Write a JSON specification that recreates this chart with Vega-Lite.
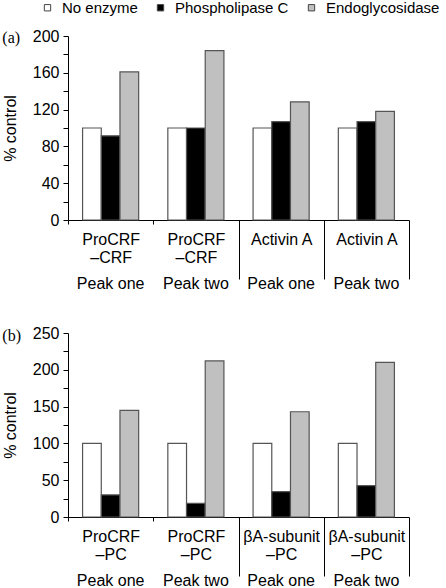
{
  "$schema": "https://vega.github.io/schema/vega-lite/v6.json",
  "padding": {"left": 2, "top": 0, "right": 34, "bottom": 0},
  "background": "white",
  "datasets": {
    "a": [
      {"group": "ProCRF|–CRF|Peak one", "enzyme": "No enzyme", "value": 100},
      {"group": "ProCRF|–CRF|Peak one", "enzyme": "Phospholipase C", "value": 91.5},
      {"group": "ProCRF|–CRF|Peak one", "enzyme": "Endoglycosidase", "value": 161},
      {"group": "ProCRF|–CRF|Peak two", "enzyme": "No enzyme", "value": 100},
      {"group": "ProCRF|–CRF|Peak two", "enzyme": "Phospholipase C", "value": 100},
      {"group": "ProCRF|–CRF|Peak two", "enzyme": "Endoglycosidase", "value": 184},
      {"group": "Activin A|Peak one", "enzyme": "No enzyme", "value": 100},
      {"group": "Activin A|Peak one", "enzyme": "Phospholipase C", "value": 107},
      {"group": "Activin A|Peak one", "enzyme": "Endoglycosidase", "value": 128.5},
      {"group": "Activin A|Peak two", "enzyme": "No enzyme", "value": 100},
      {"group": "Activin A|Peak two", "enzyme": "Phospholipase C", "value": 107},
      {"group": "Activin A|Peak two", "enzyme": "Endoglycosidase", "value": 118}
    ],
    "b": [
      {"group": "ProCRF|–PC|Peak one", "enzyme": "No enzyme", "value": 100},
      {"group": "ProCRF|–PC|Peak one", "enzyme": "Phospholipase C", "value": 30},
      {"group": "ProCRF|–PC|Peak one", "enzyme": "Endoglycosidase", "value": 145},
      {"group": "ProCRF|–PC|Peak two", "enzyme": "No enzyme", "value": 100},
      {"group": "ProCRF|–PC|Peak two", "enzyme": "Phospholipase C", "value": 18.5},
      {"group": "ProCRF|–PC|Peak two", "enzyme": "Endoglycosidase", "value": 212},
      {"group": "βA-subunit|–PC|Peak one", "enzyme": "No enzyme", "value": 100},
      {"group": "βA-subunit|–PC|Peak one", "enzyme": "Phospholipase C", "value": 34.5},
      {"group": "βA-subunit|–PC|Peak one", "enzyme": "Endoglycosidase", "value": 143},
      {"group": "βA-subunit|–PC|Peak two", "enzyme": "No enzyme", "value": 100},
      {"group": "βA-subunit|–PC|Peak two", "enzyme": "Phospholipase C", "value": 42.5},
      {"group": "βA-subunit|–PC|Peak two", "enzyme": "Endoglycosidase", "value": 210}
    ]
  },
  "vconcat": [
    {
      "width": 341,
      "height": 184,
      "data": {"name": "a"},
      "title": {"text": "(a)", "font": "Liberation Serif", "fontSize": 16, "fontWeight": "normal", "color": "black", "anchor": "start", "frame": "bounds", "baseline": "middle", "offset": 0, "dy": 54},
      "layer": [
        {
          "mark": {"type": "bar", "stroke": "#555555", "strokeWidth": 1.2},
          "encoding": {
            "x": {"field": "group", "type": "nominal", "sort": null,
              "scale": {"paddingInner": 0, "paddingOuter": 0},
              "axis": {"title": null, "labelExpr": "slice(split(datum.label, '|'), 0, -1)", "labelAngle": 0, "labelLineHeight": 18, "labelPadding": {"condition": {"test": "datum.index > 0 && datum.label != ''", "value": -48}, "value": 7}, "labelBaseline": "top", "labelOverlap": false, "tickBand": "extent", "tickSize": {"condition": {"test": "datum.index > 0 && datum.label != ''", "value": 59}, "value": 4}}},
            "xOffset": {"field": "enzyme", "type": "nominal", "sort": ["No enzyme", "Phospholipase C", "Endoglycosidase"], "scale": {"paddingInner": 0, "paddingOuter": 0.78}},
            "y": {"field": "value", "type": "quantitative", "scale": {"domain": [0, 200], "nice": false},
              "axis": {"title": "% control", "values": [0, 20, 40, 60, 80, 100, 120, 140, 160, 180, 200], "labelExpr": "datum.value % 40 == 0 ? datum.label : ''", "tickSize": 5, "labelPadding": 4, "titlePadding": 14}},
            "fill": {"field": "enzyme", "type": "nominal", "sort": ["No enzyme", "Phospholipase C", "Endoglycosidase"],
              "scale": {"domain": ["No enzyme", "Phospholipase C", "Endoglycosidase"], "range": ["#ffffff", "#000000", "#c0c0c0"]},
              "legend": {"orient": "none", "legendX": -28, "legendY": -36, "direction": "horizontal", "title": null, "symbolType": "square", "symbolSize": 40, "symbolStrokeColor": "#444444", "symbolStrokeWidth": 1, "labelFontSize": 15, "labelFont": "Liberation Sans", "labelColor": "black", "labelOffset": 7, "columnPadding": 15, "labelLimit": 300}}
          }
        },
        {
          "mark": {"type": "bar", "opacity": 0},
          "encoding": {
            "x": {"field": "group", "type": "nominal", "sort": null,
              "axis": {"orient": "bottom", "title": null, "labelExpr": "peek(split(datum.label, '|'))", "labelAngle": 0, "labelPadding": 55, "labelBaseline": "top", "labelOverlap": false, "ticks": false, "domain": false}}
          }
        }
      ],
      "resolve": {"axis": {"x": "independent"}}
    },
    {
      "width": 341,
      "height": 184,
      "data": {"name": "b"},
      "title": {"text": "(b)", "font": "Liberation Serif", "fontSize": 16, "fontWeight": "normal", "color": "black", "anchor": "start", "frame": "bounds", "baseline": "middle", "offset": 0, "dy": 27},
      "layer": [
        {
          "mark": {"type": "bar", "stroke": "#555555", "strokeWidth": 1.2},
          "encoding": {
            "x": {"field": "group", "type": "nominal", "sort": null,
              "scale": {"paddingInner": 0, "paddingOuter": 0},
              "axis": {"title": null, "labelExpr": "slice(split(datum.label, '|'), 0, -1)", "labelAngle": 0, "labelLineHeight": 18, "labelPadding": {"condition": {"test": "datum.index > 0 && datum.label != ''", "value": -48}, "value": 7}, "labelBaseline": "top", "labelOverlap": false, "tickBand": "extent", "tickSize": {"condition": {"test": "datum.index > 0 && datum.label != ''", "value": 59}, "value": 4}}},
            "xOffset": {"field": "enzyme", "type": "nominal", "sort": ["No enzyme", "Phospholipase C", "Endoglycosidase"], "scale": {"paddingInner": 0, "paddingOuter": 0.78}},
            "y": {"field": "value", "type": "quantitative", "scale": {"domain": [0, 250], "nice": false},
              "axis": {"title": "% control", "values": [0, 25, 50, 75, 100, 125, 150, 175, 200, 225, 250], "labelExpr": "datum.value % 50 == 0 ? datum.label : ''", "tickSize": 5, "labelPadding": 4, "titlePadding": 14}},
            "fill": {"field": "enzyme", "type": "nominal",
              "scale": {"domain": ["No enzyme", "Phospholipase C", "Endoglycosidase"], "range": ["#ffffff", "#000000", "#c0c0c0"]},
              "legend": null}
          }
        },
        {
          "mark": {"type": "bar", "opacity": 0},
          "encoding": {
            "x": {"field": "group", "type": "nominal", "sort": null,
              "axis": {"orient": "bottom", "title": null, "labelExpr": "peek(split(datum.label, '|'))", "labelAngle": 0, "labelPadding": 55, "labelBaseline": "top", "labelOverlap": false, "ticks": false, "domain": false}}
          }
        }
      ],
      "resolve": {"axis": {"x": "independent"}}
    }
  ],
  "spacing": 34,
  "resolve": {"scale": {"fill": "independent"}, "legend": {"fill": "independent"}},
  "config": {
    "font": "Liberation Sans",
    "view": {"stroke": null},
    "axis": {"labelFont": "Liberation Sans", "titleFont": "Liberation Sans", "labelFontSize": 16, "titleFontSize": 16, "titleFontWeight": "normal", "labelColor": "black", "titleColor": "black", "domainColor": "black", "tickColor": "black", "grid": false, "labelLimit": 300}
  }
}
